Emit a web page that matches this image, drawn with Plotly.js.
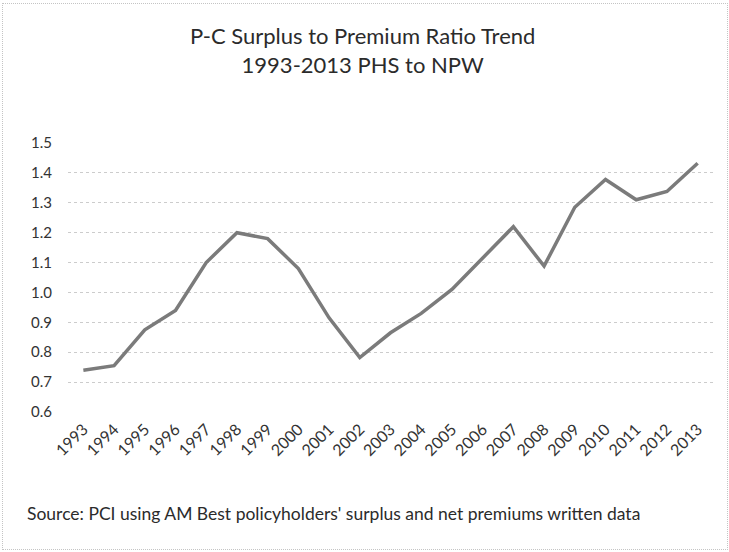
<!DOCTYPE html>
<html>
<head>
<meta charset="utf-8">
<script src="https://cdn.plot.ly/plotly-3.0.1.min.js"></script>
<style>
  html, body { margin: 0; padding: 0; background: #fff; }
  #wrap { position: relative; width: 729px; height: 552px; }
  #chart { position: absolute; left: 0; top: 0; width: 729px; height: 552px; }
  #frame { position: absolute; left: 2px; top: 3px; width: 724px; height: 545px;
           border: 1px dotted #c4c4c4; pointer-events: none; }
</style>
</head>
<body>
<div id="wrap"><div id="chart"></div><div id="frame"></div></div>
<script>
// Policyholders' surplus to net premiums written, by year
const years = ['1993','1994','1995','1996','1997','1998','1999','2000','2001','2002','2003',
               '2004','2005','2006','2007','2008','2009','2010','2011','2012','2013'];
const ratio = [0.74, 0.755, 0.875, 0.94, 1.10, 1.20, 1.18, 1.08, 0.915, 0.782, 0.865,
               0.93, 1.01, 1.115, 1.22, 1.088, 1.285, 1.378, 1.31, 1.338, 1.432];
const yTicks = [0.6, 0.7, 0.8, 0.9, 1.0, 1.1, 1.2, 1.3, 1.4, 1.5];

const titleText = 'P-C Surplus to Premium Ratio Trend<br>1993-2013 PHS to NPW';
const sourceText = "Source: PCI using AM Best policyholders' surplus and net premiums written data";

const font = 'Lato, "Open Sans", sans-serif';

Plotly.newPlot('chart', [{
  x: years,
  y: ratio,
  type: 'scatter',
  mode: 'lines',
  line: { color: '#7b7b7b', width: 3.5 },
  hoverinfo: 'x+y'
}], {
  width: 729,
  height: 552,
  paper_bgcolor: 'rgba(0,0,0,0)',
  plot_bgcolor: '#ffffff',
  margin: { l: 68, r: 16, t: 143, b: 140 },
  showlegend: false,
  font: { family: font, color: '#333333' },
  xaxis: {
    type: 'category',
    range: [-0.5, 20.5],
    tickangle: -45,
    tickfont: { family: font, size: 16, color: '#333333' },
    ticklabelstandoff: 4,
    showgrid: false,
    zeroline: false,
    showline: false,
    ticks: ''
  },
  yaxis: {
    range: [0.6, 1.5],
    tickvals: yTicks,
    ticktext: yTicks.map(v => v.toFixed(1)),
    tickfont: { family: font, size: 15, color: '#333333' },
    ticklabelstandoff: 15,
    showgrid: true,
    gridcolor: '#cccccc',
    griddash: 'dot',
    gridwidth: 1,
    zeroline: false,
    showline: false,
    ticks: ''
  },
  annotations: [{
    // chart title, two centred lines
    text: titleText,
    xref: 'paper', yref: 'paper',
    x: 0.457, xanchor: 'center',
    y: 1.346, yanchor: 'middle',
    align: 'center',
    showarrow: false,
    font: { family: font, size: 22, color: '#2b2b2b' }
  }, {
    text: sourceText,
    xref: 'paper', yref: 'paper',
    x: -0.0667, xanchor: 'left',
    y: -0.377, yanchor: 'middle',
    showarrow: false,
    font: { family: font, size: 17.5, color: '#2b2b2b' }
  }]
}, { displayModeBar: false, staticPlot: true });
</script>
</body>
</html>
